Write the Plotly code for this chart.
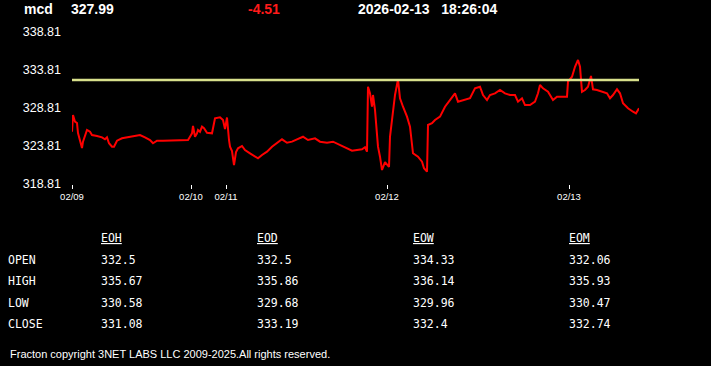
import plotly.graph_objects as go

# ---------------- data ----------------
symbol = "mcd"
last_price = "327.99"
change = "-4.51"
stamp = "2026-02-13   18:26:04"

bar_index = [0, 1, 3, 5, 6, 9, 10, 11, 13, 15, 18, 20, 25, 30, 33, 35, 37, 40, 42, 45,
             50, 55, 61, 68, 73, 78, 81, 85, 91, 98, 105, 111, 116, 118, 120, 121, 123, 125, 126, 128,
             130, 132, 135, 140, 141, 143, 148, 151, 153, 155, 157, 158, 160, 162, 164, 166, 170, 173, 178, 183,
             186, 190, 195, 200, 205, 210, 215, 220, 225, 231, 236, 243, 248, 255, 261, 268, 275, 280, 285, 290,
             293, 295, 296, 298, 300, 301, 303, 305, 306, 308, 310, 313, 316, 317, 318, 321, 323, 326, 328, 331,
             335, 338, 341, 346, 350, 352, 355, 356, 360, 363, 368, 373, 378, 383, 386, 391, 398, 403, 408, 411,
             415, 418, 423, 428, 433, 438, 443, 446, 450, 453, 458, 463, 466, 468, 471, 476, 481, 485, 490, 495,
             496, 500, 503, 506, 508, 510, 513, 516, 519, 521, 525, 530, 535, 538, 541, 545, 548, 551, 556, 561,
             564, 567]

price = [325.69, 327.89, 327.01, 326.84, 325.52, 324.20, 323.55, 324.38, 325.26, 325.92, 325.69, 325.26, 325.13, 324.95, 324.69, 324.95, 324.17, 323.72, 323.72, 324.51,
         324.82, 324.95, 325.03, 325.26, 324.95, 324.60, 324.17, 324.51, 324.51, 324.51, 324.60, 324.51, 324.60, 325.03, 325.48, 326.44, 325.03, 325.48, 325.92, 325.69,
         326.35, 326.14, 325.56, 325.48, 326.14, 327.45, 327.59, 327.23, 326.05, 327.56, 324.60, 323.72, 323.15, 321.31, 323.02, 323.51, 323.81, 323.28, 322.85, 322.49,
         322.19, 322.63, 323.06, 323.72, 324.24, 324.69, 324.24, 324.38, 324.69, 325.03, 324.60, 324.82, 324.38, 324.24, 324.38, 323.94, 323.51, 323.19, 323.28, 323.38,
         323.64, 323.06, 331.61, 330.74, 328.98, 330.52, 328.55, 325.48, 323.72, 322.40, 320.65, 321.70, 321.31, 321.05, 325.03, 328.55, 330.52, 332.56, 330.09, 328.98,
         327.67, 326.35, 322.85, 322.40, 321.74, 320.88, 320.43, 326.57, 326.80, 327.23, 327.67, 328.98, 329.86, 330.74, 329.64, 329.86, 330.09, 331.40, 331.61, 330.52,
         329.86, 330.52, 330.74, 331.18, 330.74, 330.52, 330.52, 329.64, 330.09, 329.20, 329.20, 329.64, 330.74, 331.84, 331.40, 330.95, 329.86, 330.30, 330.30, 330.30,
         332.27, 332.93, 334.24, 335.13, 334.24, 330.95, 331.18, 331.61, 333.02, 331.27, 331.18, 330.95, 330.74, 330.09, 330.52, 331.27, 330.74, 329.43, 328.77, 328.32,
         328.11, 328.77]

open_level = 332.5

day_ticks = [0, 119, 154, 315, 497]
day_labels = ["02/09", "02/10", "02/11", "02/12", "02/13"]

y_ticks = [318.81, 323.81, 328.81, 333.81, 338.81]
y_labels = ["318.81", "323.81", "328.81", "333.81", "338.81"]

col_names = ["EOH", "EOD", "EOW", "EOM"]
row_names = ["OPEN", "HIGH", "LOW", "CLOSE"]
eoh = ["332.5", "335.67", "330.58", "331.08"]
eod = ["332.5", "335.86", "329.68", "333.19"]
eow = ["334.33", "336.14", "329.96", "332.4"]
eom = ["332.06", "335.93", "330.47", "332.74"]

footer = "Fracton copyright 3NET LABS LLC 2009-2025.All rights reserved."

# ---------------- layout helpers ----------------
W, H = 711, 366
ML, MR, MT, MB = 72, 72, 32, 182
PW, PH = W - ML - MR, H - MT - MB


def px(x):
    return (x - ML) / PW


def py(y):
    return (H - MB - y) / PH


SANS = "Arial, Liberation Sans, sans-serif"
MONO = "Consolas, DejaVu Sans Mono, monospace"

fig = go.Figure()
fig.add_trace(go.Scatter(x=bar_index, y=price, mode="lines",
                         line=dict(color="#ff0000", width=2), hoverinfo="skip"))
fig.add_trace(go.Scatter(x=[0, max(bar_index)], y=[open_level, open_level], mode="lines",
                         line=dict(color="#d8e08c", width=2.5), hoverinfo="skip"))

ann = []


def txt(x, y, s, size, color="white", family=SANS, bold=False):
    ann.append(dict(x=px(x), y=py(y), xref="paper", yref="paper", xanchor="left", yanchor="middle",
                    text=("<b>%s</b>" % s) if bold else s, showarrow=False,
                    font=dict(size=size, color=color, family=family)))


txt(22, 9, symbol, 14, bold=True)
txt(69, 9, last_price, 14, bold=True)
txt(246, 9, change, 14, color="#ff1a1a", bold=True)
txt(356, 9, stamp.replace(" ", "&nbsp;"), 14, bold=True)

col_x = [99, 255, 411, 567]
row_y = [260, 281, 303, 324]
cols = [eoh, eod, eow, eom]
for cx, name, vals in zip(col_x, col_names, cols):
    txt(cx, 238, "<u>%s</u>" % name, 11.5, family=MONO)
    for ry, v in zip(row_y, vals):
        txt(cx, ry, v, 11.5, family=MONO)
for ry, r in zip(row_y, row_names):
    txt(6, ry, r, 11.5, family=MONO)

txt(8, 354, footer, 11)

fig.update_layout(
    width=W, height=H,
    margin=dict(l=ML, r=MR, t=MT, b=MB, pad=0),
    paper_bgcolor="black", plot_bgcolor="black",
    showlegend=False,
    annotations=ann,
    xaxis=dict(range=[0, max(bar_index)], tickvals=day_ticks, ticktext=day_labels,
               ticks="outside", ticklen=4, tickcolor="white", tickwidth=1,
               showgrid=False, zeroline=False, showline=False,
               tickfont=dict(size=9.5, color="white", family=SANS)),
    yaxis=dict(range=[318.81, 338.81], tickvals=y_ticks, ticktext=y_labels,
               ticks="", showgrid=False, zeroline=False, showline=False,
               ticklabelstandoff=10,
               tickfont=dict(size=12.5, color="white", family=SANS)),
)

fig.write_html("out.html")
